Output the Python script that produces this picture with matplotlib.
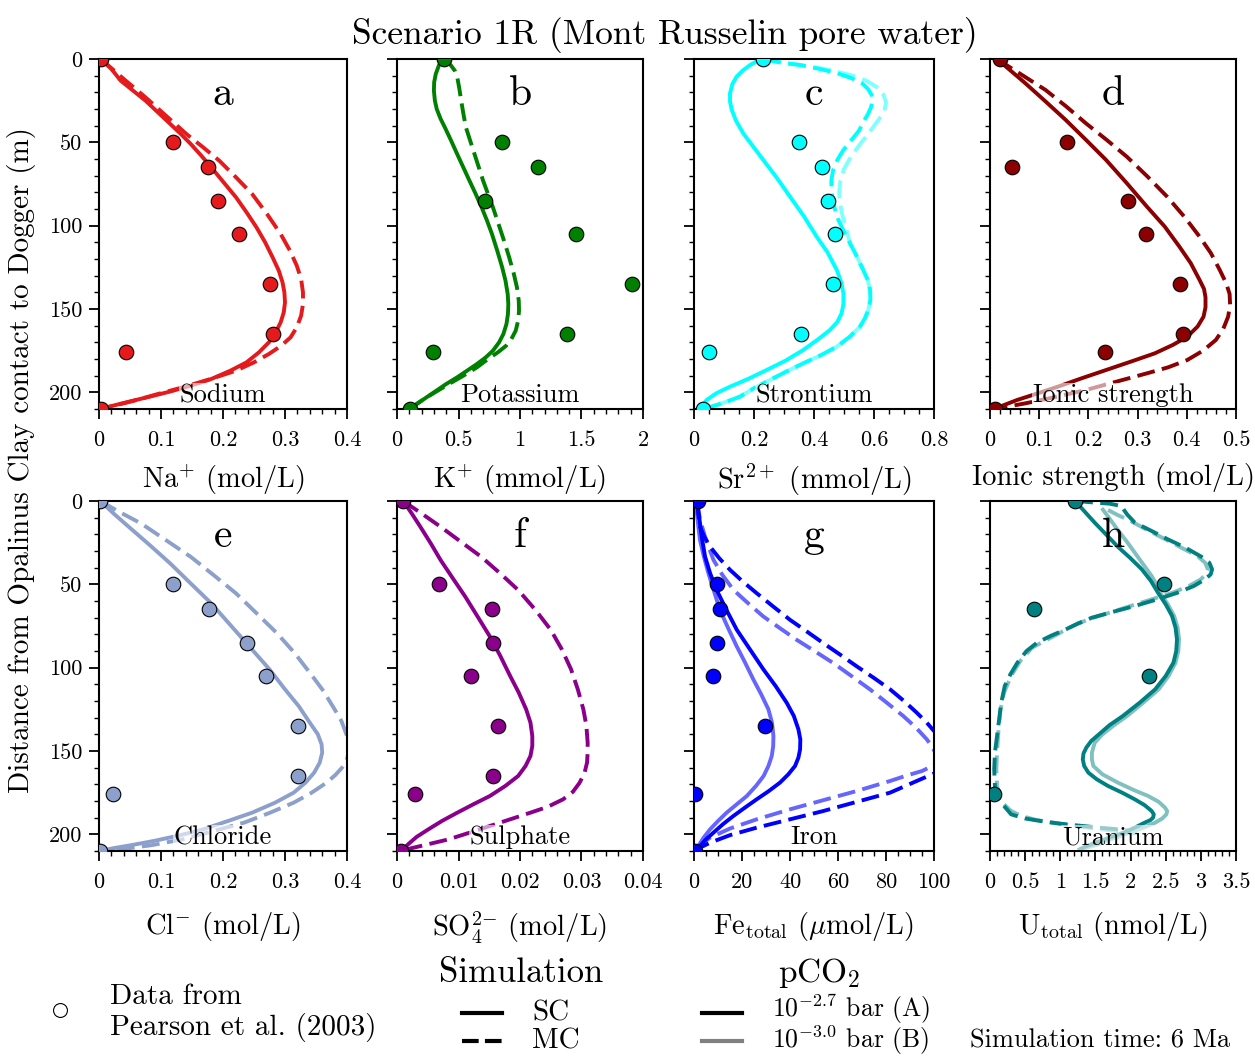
import numpy as np
import matplotlib
matplotlib.use("Agg")
import matplotlib.pyplot as plt
from matplotlib.ticker import MultipleLocator, AutoMinorLocator, FuncFormatter
from matplotlib.colors import to_rgb

plt.rcParams["font.family"] = ["cmr10", "DejaVu Serif"]
plt.rcParams["mathtext.fontset"] = "cm"

# ---------------------------------------------------------------- data
# measured depths (m) of the Pearson et al. (2003) samples
depths = [0, 50, 65, 85, 105, 135, 165, 176, 210]

na_obs = [0.003, 0.119, 0.176, 0.192, 0.225, 0.275, 0.280, 0.043, 0.003]
k_obs = [0.38, 0.855, 1.144, 0.712, 1.453, 1.909, 1.38, 0.289, 0.106]
sr_obs = [0.231, 0.351, 0.427, 0.448, 0.471, 0.462, 0.355, 0.05, 0.029]
is_obs = [0.02, 0.157, 0.045, 0.28, 0.317, 0.387, 0.393, 0.233, 0.01]
cl_obs = [0.002, 0.119, 0.178, 0.238, 0.269, 0.321, 0.321, 0.0226, 0.002]
so4_obs = [0.001, 0.00675, 0.0155, 0.0156, 0.012, 0.0165, 0.0156, 0.003, 0.0007]
fe_depths = [0, 50, 65, 85, 105, 135, 176, 210]
fe_obs = [1.8, 9.7, 10.8, 9.7, 8.1, 29.7, 0.4, 0.4]
u_depths = [0, 50, 65, 105, 176]
u_obs = [1.21, 2.48, 0.63, 2.26, 0.05]

# simulated profiles, (value, depth) pairs
na_sc = [(0.003, 0), (0.02, 6), (0.035, 13), (0.055, 19), (0.075, 25), (0.095, 32),
         (0.115, 39), (0.132, 45), (0.148, 51), (0.165, 58), (0.181, 65), (0.201, 74),
         (0.221, 83), (0.238, 92), (0.254, 101), (0.268, 110), (0.28, 119), (0.290, 127),
         (0.296, 134), (0.299, 140), (0.300, 146), (0.298, 152), (0.293, 158), (0.285, 164),
         (0.274, 170), (0.258, 176), (0.238, 182), (0.212, 187), (0.181, 192), (0.148, 196),
         (0.115, 199.5), (0.085, 202.3), (0.055, 205), (0.03, 207.3), (0.01, 209.2), (0.003, 210)]
na_mc = [(0.003, 0), (0.04, 12), (0.075, 23), (0.108, 34), (0.141, 45), (0.168, 53),
         (0.194, 61), (0.221, 71), (0.247, 81), (0.271, 93), (0.293, 105), (0.308, 115),
         (0.319, 124), (0.326, 132), (0.329, 140), (0.329, 147), (0.326, 154), (0.319, 161),
         (0.309, 167), (0.294, 172), (0.274, 177), (0.25, 182), (0.221, 187), (0.18, 192),
         (0.135, 197), (0.095, 201), (0.062, 204.5), (0.03, 207.5), (0.009, 209.3), (0.003, 210)]

k_sc = [(0.373, 0), (0.34, 4), (0.315, 9), (0.302, 14), (0.30, 19), (0.308, 25), (0.323, 30),
        (0.355, 36), (0.389, 41), (0.44, 49), (0.489, 57), (0.539, 65), (0.589, 73),
        (0.64, 81), (0.688, 89), (0.732, 97), (0.772, 105), (0.815, 115), (0.855, 125),
        (0.882, 133), (0.9, 141), (0.905, 147), (0.902, 153), (0.89, 159), (0.865, 165),
        (0.83, 170), (0.78, 175), (0.722, 179), (0.65, 183), (0.57, 187), (0.489, 191),
        (0.40, 195), (0.32, 199), (0.24, 203), (0.17, 206.5), (0.11, 210)]
k_mc = [(0.373, 0), (0.41, 1.5), (0.44, 4), (0.47, 7), (0.49, 11), (0.505, 17), (0.522, 25),
        (0.54, 33), (0.56, 41), (0.595, 49), (0.63, 57), (0.665, 65), (0.70, 73), (0.74, 81),
        (0.78, 89), (0.825, 99), (0.87, 109), (0.912, 119), (0.95, 129), (0.975, 137),
        (0.99, 145), (0.992, 151), (0.985, 157), (0.965, 163), (0.93, 168), (0.888, 172),
        (0.82, 176), (0.74, 180), (0.65, 185), (0.54, 190), (0.422, 195), (0.32, 199.5),
        (0.23, 203.5), (0.16, 207), (0.11, 210)]

sr_sc = [(0.231, 0), (0.205, 1.8), (0.187, 3.6), (0.162, 7), (0.142, 10.6), (0.128, 15),
         (0.12, 20.6), (0.12, 25.5), (0.126, 30.6), (0.14, 37), (0.164, 44.6), (0.195, 52),
         (0.231, 60.6), (0.275, 71), (0.32, 82.6), (0.365, 94), (0.409, 106.6), (0.445, 116),
         (0.476, 126.6), (0.491, 134), (0.498, 140.6), (0.498, 147), (0.492, 152.6),
         (0.477, 158), (0.453, 162.6), (0.415, 168), (0.364, 174.6), (0.305, 181),
         (0.242, 186.6), (0.18, 192), (0.12, 196.6), (0.075, 200.5), (0.042, 204.6),
         (0.03, 207.5), (0.029, 210)]
sr_mc_a = [(0.231, 0), (0.29, 2.2), (0.353, 3.6), (0.42, 6), (0.477, 8.5), (0.525, 11.5),
           (0.56, 14.5), (0.58, 18), (0.592, 21.5), (0.595, 25), (0.59, 29), (0.58, 33),
           (0.567, 37), (0.55, 43), (0.523, 49), (0.498, 54.6), (0.478, 60.5), (0.464, 66.6),
           (0.458, 72.5), (0.458, 78.6), (0.464, 86), (0.476, 94.6), (0.497, 102.5),
           (0.52, 110.6), (0.543, 118.5), (0.564, 126.6), (0.579, 132.5), (0.587, 138.6),
           (0.588, 144.5), (0.581, 150.6), (0.57, 155.5), (0.553, 160.6), (0.52, 166.5),
           (0.476, 172.6), (0.42, 178), (0.364, 182.6), (0.308, 187.5), (0.253, 192.6),
           (0.2, 197.5), (0.153, 202.6), (0.11, 205.5), (0.076, 207.6), (0.045, 209.2),
           (0.029, 210)]
sr_mc_b = [(0.231, 0), (0.30, 2.2), (0.37, 4), (0.45, 6.5), (0.52, 9.5), (0.575, 13),
           (0.61, 17), (0.632, 21.5), (0.64, 26), (0.636, 30), (0.625, 34), (0.605, 39),
           (0.58, 45), (0.55, 52), (0.522, 59), (0.50, 66), (0.488, 73), (0.484, 80),
           (0.487, 87), (0.495, 94), (0.508, 102), (0.52, 110.6), (0.543, 118.5),
           (0.564, 126.6), (0.579, 132.5), (0.587, 138.6), (0.588, 144.5), (0.581, 150.6),
           (0.57, 155.5), (0.553, 160.6), (0.52, 166.5), (0.476, 172.6), (0.42, 178),
           (0.364, 182.6), (0.308, 187.5), (0.253, 192.6), (0.2, 197.5), (0.153, 202.6),
           (0.11, 205.5), (0.076, 207.6), (0.045, 209.2), (0.029, 210)]

is_sc = [(0.014, 0), (0.04, 6.5), (0.072, 14.6), (0.113, 25.5), (0.154, 36.6), (0.195, 48.5),
         (0.236, 60.6), (0.278, 74.5), (0.319, 88.6), (0.355, 100.5), (0.385, 112.6),
         (0.408, 122.5), (0.426, 132.6), (0.435, 138), (0.438, 143), (0.438, 149),
         (0.434, 154.6), (0.422, 160.5), (0.401, 166.6), (0.372, 171.5), (0.335, 176.6),
         (0.287, 181.5), (0.236, 186.6), (0.187, 191.5), (0.138, 196.6), (0.095, 200.8),
         (0.055, 204.6), (0.027, 207.8), (0.01, 210)]
is_mc = [(0.014, 0), (0.062, 9), (0.113, 18.6), (0.155, 28.5), (0.195, 38.6), (0.237, 48.5),
         (0.278, 58.6), (0.32, 70.5), (0.36, 82.6), (0.396, 95), (0.426, 106.6),
         (0.449, 116.5), (0.467, 126.6), (0.48, 134.5), (0.487, 141), (0.488, 147.5),
         (0.484, 154.6), (0.474, 162), (0.459, 168.6), (0.433, 175), (0.401, 180.6),
         (0.362, 185), (0.319, 188.6), (0.258, 193.5), (0.195, 198.6), (0.13, 203),
         (0.072, 206.6), (0.035, 208.6), (0.01, 210)]

cl_sc = [(0.002, 0), (0.025, 8), (0.048, 15.5), (0.082, 26.5), (0.115, 37.5), (0.148, 49.5),
         (0.181, 61.4), (0.214, 75.3), (0.247, 89.2), (0.275, 101), (0.3, 113), (0.322, 123),
         (0.34, 133), (0.353, 140), (0.359, 146), (0.36, 151), (0.356, 157), (0.347, 163),
         (0.333, 169), (0.314, 175), (0.284, 181), (0.247, 187), (0.208, 192), (0.168, 197),
         (0.128, 200.8), (0.088, 204), (0.052, 206.5), (0.022, 208.4), (0.002, 210)]
cl_mc = [(0.002, 0), (0.035, 7), (0.068, 13.5), (0.108, 23.5), (0.148, 33.5), (0.185, 44.5),
         (0.221, 55.4), (0.254, 67.3), (0.287, 79.3), (0.315, 91), (0.34, 103), (0.362, 114),
         (0.38, 125), (0.391, 132), (0.398, 139), (0.403, 144), (0.404, 149), (0.4, 155),
         (0.392, 160), (0.381, 164.5), (0.367, 169), (0.343, 175), (0.314, 181),
         (0.276, 187), (0.234, 193), (0.185, 198), (0.135, 203), (0.085, 206.5),
         (0.035, 209), (0.002, 210)]

so4_sc = [(0.001, 0), (0.0024, 7.5), (0.0038, 15.5), (0.0055, 25.5), (0.0071, 35.5),
          (0.0091, 46.5), (0.0111, 57.4), (0.0131, 69.3), (0.0151, 81.3), (0.0168, 93),
          (0.0184, 105), (0.0198, 115), (0.021, 125), (0.0217, 133), (0.022, 141),
          (0.022, 147), (0.0217, 153), (0.0209, 159), (0.0197, 165), (0.0176, 171),
          (0.0151, 177), (0.0124, 182), (0.0098, 187), (0.0073, 192), (0.0051, 197),
          (0.0032, 201.5), (0.0018, 206), (0.0007, 210)]
so4_mc = [(0.001, 0), (0.004, 7.5), (0.0071, 15.5), (0.0104, 24.5), (0.0137, 33.5),
          (0.0168, 43.5), (0.0197, 53.4), (0.0225, 65.3), (0.025, 77.3), (0.0268, 89),
          (0.0283, 101), (0.0294, 113), (0.0303, 125), (0.0308, 135), (0.031, 145),
          (0.031, 151), (0.0309, 157), (0.0305, 163), (0.0297, 169), (0.0286, 174.5),
          (0.027, 179), (0.0245, 183.5), (0.0217, 187), (0.0184, 191), (0.0151, 195),
          (0.0118, 199), (0.0084, 203), (0.005, 206), (0.0018, 208.8), (0.0007, 210)]

fe_sc_a = [(1.3, 0), (1.8, 6), (2.5, 13.4), (3.4, 23), (4.6, 33.3), (6.7, 43.3), (9.4, 53.3),
           (13.5, 65.3), (17.8, 77.2), (23.3, 89), (28.9, 101), (34.0, 111), (38.6, 121),
           (41.6, 129), (43.5, 137), (44.3, 143), (44.2, 149), (43.5, 154), (42.1, 159),
           (39.3, 164), (35.8, 169), (31.2, 174), (26.1, 179), (21.2, 184), (16.4, 189),
           (12.0, 194), (8.1, 199), (5.0, 203), (2.5, 207), (0.4, 210)]
fe_sc_b = [(1.3, 0), (1.1, 5.4), (1.7, 14), (2.5, 23.4), (4.1, 33.3), (6.0, 43.3), (8.3, 54),
           (10.8, 65.3), (14.2, 76.2), (17.8, 87.2), (21.3, 97), (24.7, 107), (28.0, 116),
           (31.0, 125), (32.5, 133), (33.1, 141), (33.0, 147), (32.4, 153), (31.0, 159),
           (29.0, 165), (25.8, 171), (22.0, 177), (17.8, 182), (13.6, 187), (10.0, 192),
           (6.7, 197), (4.0, 202), (1.8, 207), (0.4, 210)]
fe_mc_a = [(1.3, 0), (1.8, 8), (2.5, 15.4), (4.3, 21.5), (6.7, 27.4), (10.5, 34.3),
           (15.0, 41.3), (20.3, 48.3), (26.1, 55.3), (33.0, 63.3), (40.0, 71.3), (47.0, 78.3),
           (53.9, 85.3), (60.9, 92.2), (67.8, 99.2), (74.8, 106), (81.7, 113), (87.5, 120),
           (92.8, 127), (97.0, 133), (100, 138), (103.5, 143), (106, 148), (107, 154),
           (105.5, 158), (100, 163.5), (92, 168.5), (81.7, 175), (67.8, 180.5), (53.9, 186),
           (40.0, 191), (26.1, 196), (15.0, 200.5), (6.7, 205), (2.5, 208), (0.4, 210)]
fe_mc_b = [(1.3, 0), (2.5, 11), (4.6, 21.4), (6.2, 28), (8.1, 35.3), (11.8, 44.3), (16.4, 53.3),
           (22.5, 61.3), (28.9, 69.3), (35.8, 76.3), (42.8, 83.3), (50.4, 90.2), (58.0, 97.2),
           (65.6, 105), (73.3, 113), (80.3, 121), (87.2, 129), (92.5, 136), (97.0, 143),
           (99.5, 148), (100.8, 152), (101.2, 155.5), (100, 158.5), (95, 162), (88, 165),
           (81.7, 168), (67.8, 174), (53.9, 179.5), (40.0, 185), (26.1, 191), (15.0, 196.5),
           (6.7, 202), (2.5, 206.5), (0.4, 210)]

u_sc_a = [(1.21, 0), (1.35, 6.5), (1.49, 13), (1.65, 20), (1.82, 27.5), (1.99, 34), (2.16, 41),
          (2.29, 48), (2.39, 55), (2.5, 62), (2.59, 69), (2.64, 76), (2.66, 83), (2.65, 90),
          (2.61, 97), (2.5, 105), (2.35, 113), (2.13, 121), (1.89, 129), (1.7, 134.5),
          (1.55, 140), (1.44, 144), (1.37, 148), (1.33, 151.5), (1.32, 155), (1.34, 159),
          (1.40, 163), (1.52, 167), (1.68, 171), (1.88, 175), (2.06, 179), (2.2, 182.5),
          (2.30, 186), (2.33, 188), (2.32, 190), (2.28, 191.5), (2.2, 193), (2.06, 196),
          (1.9, 199), (1.7, 202), (1.5, 205), (1.35, 207.5), (1.25, 209.5)]
u_sc_b = [(1.59, 4.3), (1.7, 10.5), (1.82, 17.5), (1.94, 24), (2.06, 31), (2.18, 38), (2.3, 45),
          (2.37, 50), (2.42, 55), (2.53, 62), (2.62, 69), (2.67, 76), (2.69, 83), (2.68, 90),
          (2.64, 97), (2.54, 105), (2.4, 113), (2.18, 121), (1.95, 129), (1.75, 135),
          (1.6, 140), (1.49, 145), (1.45, 151), (1.45, 155), (1.47, 159), (1.6, 164),
          (1.82, 169), (2.05, 173.5), (2.25, 177), (2.4, 180.5), (2.49, 184), (2.52, 186),
          (2.51, 188), (2.45, 190.5), (2.35, 193), (2.15, 196.5), (1.92, 200), (1.72, 203),
          (1.54, 206), (1.38, 208), (1.25, 209.5)]
u_mc_a = [(1.21, 0), (1.45, 0.8), (1.7, 1.6), (1.87, 3), (1.9, 5), (1.95, 8), (2.06, 13),
          (2.3, 18), (2.53, 23), (2.78, 28), (3.01, 33.5), (3.12, 37), (3.16, 41), (3.14, 44),
          (3.06, 47), (2.9, 51), (2.67, 55), (2.38, 59), (2.06, 63), (1.75, 66.5), (1.45, 70),
          (1.25, 73.5), (1.08, 77), (0.86, 81), (0.67, 85), (0.52, 90), (0.39, 97),
          (0.29, 104), (0.21, 111), (0.16, 121), (0.13, 131), (0.1, 141), (0.07, 151),
          (0.06, 161), (0.07, 171), (0.1, 176.5), (0.16, 181), (0.23, 184.5), (0.3, 188),
          (0.5, 190.5), (0.79, 192.5), (1.08, 194), (1.37, 195.2), (1.6, 196.2), (1.83, 197),
          (2.0, 198)]
u_mc_b = [(1.68, 5.4), (1.82, 8.5), (2.0, 12), (2.22, 17), (2.45, 22), (2.7, 27.5), (2.95, 33),
          (3.06, 37), (3.1, 41), (3.07, 44), (3.0, 47), (2.83, 51), (2.6, 55), (2.3, 59),
          (2.0, 63), (1.7, 67), (1.4, 71), (1.18, 75), (1.0, 79), (0.8, 83.5), (0.6, 88),
          (0.43, 96), (0.3, 105), (0.2, 115), (0.15, 125), (0.12, 138), (0.1, 151),
          (0.09, 161), (0.1, 171), (0.14, 177), (0.2, 182), (0.3, 186), (0.45, 189),
          (0.65, 191.3), (0.9, 193), (1.15, 194.6), (1.4, 196), (1.65, 197.3), (1.9, 198.5),
          (2.1, 199.5)]

# ---------------------------------------------------------------- figure
W, H = 1255, 1057
fig = plt.figure(figsize=(W / 100, H / 100), dpi=100)

cols = [(99, 347), (397, 643), (694, 934), (990, 1236)]
rows = [(59, 409), (501, 851)]

LW = 2.8
DASH = (4.6, 1.9)


def lighten(c, f):
    r = np.array(to_rgb(c))
    return tuple(r + (1 - r) * f)


def fmt(v, pos):
    return "%g" % round(v, 6)


panels = [
    ("a", "Sodium", "Na$^{+}$ (mol/L)", "#e41a1c", 0.4, 0.1, depths, na_obs,
     [(na_sc, "-", None), (na_mc, "--", None)]),
    ("b", "Potassium", "K$^{+}$ (mmol/L)", "#008000", 2.0, 0.5, depths, k_obs,
     [(k_sc, "-", None), (k_mc, "--", None)]),
    ("c", "Strontium", "Sr$^{2+}$ (mmol/L)", "#00ffff", 0.8, 0.2, depths, sr_obs,
     [(sr_mc_b, "--", 0.5), (sr_sc, "-", None), (sr_mc_a, "--", None)]),
    ("d", "Ionic strength", "Ionic strength (mol/L)", "#8b0000", 0.5, 0.1, depths, is_obs,
     [(is_sc, "-", None), (is_mc, "--", None)]),
    ("e", "Chloride", "Cl$^{\\mathrm{-}}$ (mol/L)", "#8da0cb", 0.4, 0.1, depths, cl_obs,
     [(cl_sc, "-", None), (cl_mc, "--", None)]),
    ("f", "Sulphate", "SO$_4^{2\\mathrm{-}}$ (mol/L)", "#8b008b", 0.04, 0.01, depths, so4_obs,
     [(so4_sc, "-", None), (so4_mc, "--", None)]),
    ("g", "Iron", "Fe$_{\\mathrm{total}}$ ($\\mu$mol/L)", "#0000ff", 100, 20, fe_depths, fe_obs,
     [(fe_sc_b, "-", 0.4), (fe_mc_b, "--", 0.4), (fe_sc_a, "-", None), (fe_mc_a, "--", None)]),
    ("h", "Uranium", "U$_{\\mathrm{total}}$ (nmol/L)", "#008080", 3.5, 0.5, u_depths, u_obs,
     [(u_sc_b, "-", 0.5), (u_mc_b, "--", 0.5), (u_sc_a, "-", None), (u_mc_a, "--", None)]),
]

for i, (letter, name, xlabel, color, xmax, major, obs_d, obs_x, curves) in enumerate(panels):
    r, c = divmod(i, 4)
    x0, x1 = cols[c]
    y0, y1 = rows[r]
    ax = fig.add_axes([x0 / W, 1 - y1 / H, (x1 - x0) / W, (y1 - y0) / H])

    for pts, ls, light in curves:
        arr = np.array(pts)
        col = color if light is None else lighten(color, light)
        if ls == "-":
            ax.plot(arr[:, 0], arr[:, 1], color=col, lw=LW, solid_capstyle="butt",
                    solid_joinstyle="round", zorder=2)
        else:
            ax.plot(arr[:, 0], arr[:, 1], color=col, lw=LW, dashes=DASH,
                    dash_joinstyle="round", zorder=2)

    ax.plot(obs_x, obs_d, "o", ms=10.5, mfc=color, mec="black", mew=0.8, zorder=5)

    ax.set_xlim(0, xmax)
    ax.set_ylim(210, 0)
    ax.xaxis.set_major_locator(MultipleLocator(major))
    ax.xaxis.set_minor_locator(AutoMinorLocator())
    ax.xaxis.set_major_formatter(FuncFormatter(fmt))
    ax.yaxis.set_major_locator(MultipleLocator(50))
    ax.yaxis.set_minor_locator(MultipleLocator(10))
    if c != 0:
        ax.set_yticklabels([])
    ax.tick_params(which="major", direction="out", length=7, width=1.3, labelsize=16, pad=5)
    ax.tick_params(axis="x", which="major", pad=8.5)
    ax.tick_params(which="minor", direction="out", length=3.5, width=1.0)
    for sp in ax.spines.values():
        sp.set_linewidth(1.5)
    ax.set_xlabel(xlabel, fontsize=20.5, labelpad=9 + 4 * r)

    ax.text(0.5, 0.9, letter, transform=ax.transAxes, ha="center", va="center", fontsize=30)
    ax.text(0.5, 0.005, name, transform=ax.transAxes, ha="center", va="bottom", fontsize=19,
            zorder=6, bbox=dict(facecolor="white", alpha=0.6, edgecolor="none", pad=0.5))

# ---------------------------------------------------------------- titles and legend
lg = fig.add_axes([0, 0, 1, 1], zorder=-1)
lg.set_xlim(0, W)
lg.set_ylim(H, 0)
lg.axis("off")

lg.text(665, 35, "Scenario 1R (Mont Russelin pore water)", ha="center", va="center", fontsize=25.5)
lg.text(22, 460, "Distance from Opalinus Clay contact to Dogger (m)", rotation=90,
        ha="center", va="center", fontsize=21)

lg.plot([60], [1010], "o", ms=10, mfc="none", mec="black", mew=0.8)
lg.text(110, 997, "Data from", va="center", fontsize=21)
lg.text(110, 1027, "Pearson et al. (2003)", va="center", fontsize=21)

lg.text(521, 973, "Simulation", ha="center", va="center", fontsize=25)
lg.plot([462, 502], [1013, 1013], color="black", lw=3)
lg.plot([462, 502], [1041, 1041], color="black", lw=3, dashes=(4, 1.5))
lg.text(532, 1013, "SC", va="center", fontsize=21)
lg.text(532, 1041, "MC", va="center", fontsize=21)

lg.text(819, 973, "pCO$_2$", ha="center", va="center", fontsize=24)
lg.plot([702, 742], [1013, 1013], color="black", lw=3)
lg.plot([702, 742], [1041, 1041], color="#808080", lw=3)
lg.text(772, 1009, "10$^{\\mathrm{-2.7}}$ bar (A)", va="center", fontsize=18.5)
lg.text(772, 1040, "10$^{\\mathrm{-3.0}}$ bar (B)", va="center", fontsize=18.5)

lg.text(970, 1041, "Simulation time: 6 Ma", va="center", fontsize=19)

fig.savefig("out.png", dpi=100)
